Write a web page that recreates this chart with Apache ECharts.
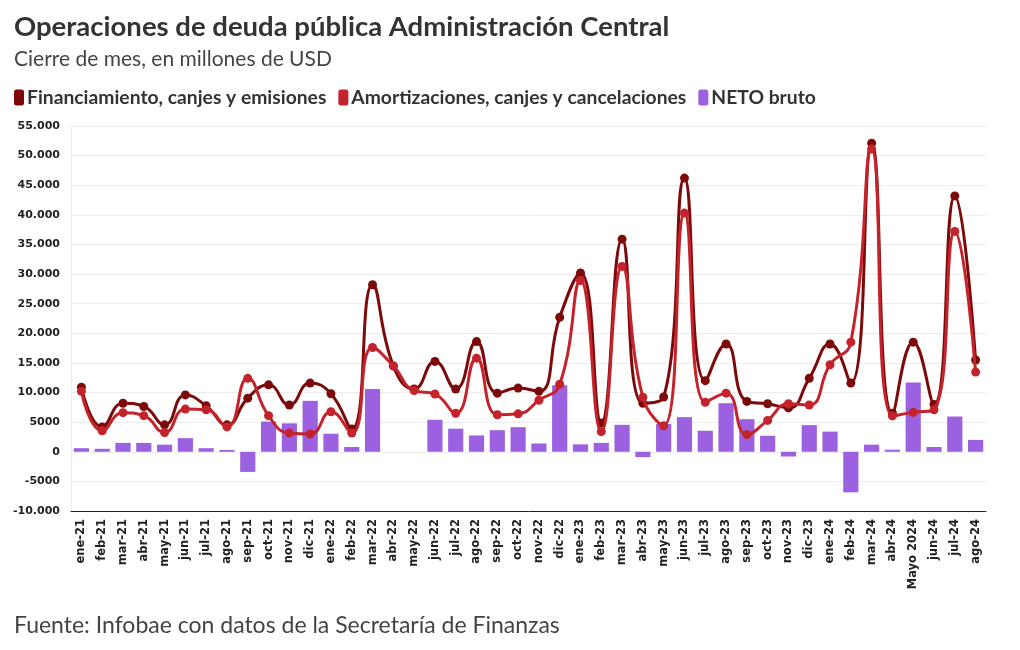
<!DOCTYPE html>
<html>
<head>
<meta charset="utf-8">
<script src="https://cdn.jsdelivr.net/npm/echarts@6/dist/echarts.min.js"></script>
<style>
html,body{margin:0;padding:0;background:#fff;}
#main{width:1020px;height:650px;}
</style>
</head>
<body>
<div id="main"></div>
<script>
var categories = ['ene-21','feb-21','mar-21','abr-21','may-21','jun-21','jul-21','ago-21','sep-21','oct-21','nov-21','dic-21',
  'ene-22','feb-22','mar-22','abr-22','may-22','jun-22','jul-22','ago-22','sep-22','oct-22','nov-22','dic-22',
  'ene-23','feb-23','mar-23','abr-23','may-23','jun-23','jul-23','ago-23','sep-23','oct-23','nov-23','dic-23',
  'ene-24','feb-24','mar-24','abr-24','Mayo 2024','jun-24','jul-24','ago-24'];
var financiamiento = [10900,4200,8200,7650,4550,9600,7750,4550,9050,11300,7900,11600,
  9800,3850,28200,14500,10600,15250,10600,18600,9900,10750,10200,22700,
  30200,4850,35900,8200,9250,46200,12000,18200,8500,8100,7400,12400,
  18200,11600,52100,6500,18500,8000,43200,15500];
var amortizaciones = [10200,3550,6600,6100,3250,7200,7100,4200,12400,6100,3150,3000,
  6750,3150,17600,14500,10350,9750,6500,15800,6250,6400,8700,11400,
  28900,3400,31300,9200,4400,40300,8350,9900,2900,5300,8100,7900,
  14700,18500,51100,6050,6650,7100,37200,13450];
var neto = [600,500,1500,1500,1200,2300,600,300,-3400,5100,4800,8600,
  3050,800,10600,0,0,5400,3900,2750,3650,4150,1400,11250,
  1250,1500,4550,-900,4700,5850,3550,8200,5500,2700,-800,4500,
  3400,-6850,1200,350,11700,800,5950,2000];
var yTicks = ['-10.000','-5000','0','5000','10.000','15.000','20.000','25.000','30.000','35.000','40.000','45.000','50.000','55.000'];

var C_FIN = '#7d0a0a', C_AM = '#c4232b', C_NETO = '#9b61e0';
var chart = echarts.init(document.getElementById('main'));
chart.setOption({
  backgroundColor: '#fff',
  animation: false,
  title: [
    {text: 'Operaciones de deuda pública Administración Central', left: 9, top: 8,
     textStyle: {fontFamily: 'Lato', fontWeight: 'bold', fontSize: 27.5, color: '#333'}},
    {text: 'Cierre de mes, en millones de USD', left: 9, top: 44,
     textStyle: {fontFamily: 'Lato', fontWeight: 'normal', fontSize: 21, color: '#444'}},
    {text: 'Fuente: Infobae con datos de la Secretaría de Finanzas', left: 9, top: 609,
     textStyle: {fontFamily: 'Lato', fontWeight: 'normal', fontSize: 23, color: '#444'}}
  ],
  legend: {
    left: 9, top: 83, icon: 'roundRect', itemWidth: 10, itemHeight: 16, itemGap: 12,
    textStyle: {fontFamily: 'Lato', fontWeight: 'bold', fontSize: 19.3, color: '#333', padding: [0,0,0,-2]},
    data: ['Financiamiento, canjes y emisiones','Amortizaciones, canjes y cancelaciones','NETO bruto']
  },
  grid: {left: 71, right: 34, top: 126, bottom: 139},
  xAxis: {
    type: 'category', data: categories, boundaryGap: true,
    axisLine: {onZero: false, lineStyle: {color: '#222', width: 1}},
    axisTick: {alignWithLabel: true, length: 6, lineStyle: {color: '#333'}},
    axisLabel: {interval: 0, rotate: 90, fontFamily: 'DejaVu Sans', fontWeight: 'bold', fontSize: 11.5, color: '#222', margin: 8}
  },
  yAxis: {
    type: 'value', min: -10000, max: 55000, interval: 5000,
    axisLine: {show: true, lineStyle: {color: '#eeeeee'}},
    axisTick: {show: false},
    splitLine: {lineStyle: {color: '#ececec'}},
    axisLabel: {
      fontFamily: 'DejaVu Sans', fontWeight: 'bold', fontSize: 11, color: '#222', margin: 11,
      formatter: function (v) { return yTicks[Math.round((v + 10000) / 5000)]; }
    }
  },
  series: [
    {name: 'NETO bruto', type: 'bar', data: neto, barCategoryGap: '27%', z: 1,
     itemStyle: {color: C_NETO}},
    {name: 'Financiamiento, canjes y emisiones', type: 'line', data: financiamiento, smooth: 0.5, z: 3,
     symbol: 'circle', symbolSize: 9, lineStyle: {color: C_FIN, width: 3}, itemStyle: {color: C_FIN}},
    {name: 'Amortizaciones, canjes y cancelaciones', type: 'line', data: amortizaciones, smooth: 0.5, z: 4,
     symbol: 'circle', symbolSize: 9, lineStyle: {color: C_AM, width: 3}, itemStyle: {color: C_AM}}
  ]
});
</script>
</body>
</html>
